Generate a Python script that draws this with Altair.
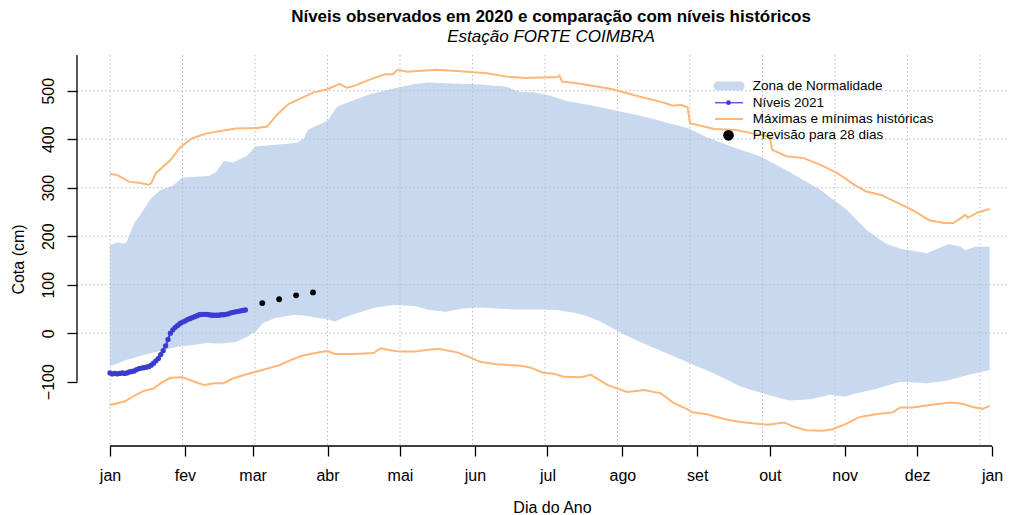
import altair as alt
import pandas as pd

# ---------------- text ----------------
TITLE = "Níveis observados em 2020 e comparação com níveis históricos"
SUBTITLE = "Estação FORTE COIMBRA"
X_TITLE = "Dia do Ano"
Y_TITLE = "Cota (cm)"
LEGEND_LABELS = ["Zona de Normalidade", "Níveis 2021",
                 "Máximas e mínimas históricas", "Previsão para 28 dias"]

# ---------------- axes ----------------
month_days = [1, 32, 60, 91, 121, 152, 182, 213, 244, 274, 305, 335, 366]
month_labels = ["jan", "fev", "mar", "abr", "mai", "jun", "jul", "ago",
                "set", "out", "nov", "dez", "jan"]
y_ticks = [-100, 0, 100, 200, 300, 400, 500]
grid_x = [1, 31, 61, 91, 121, 151, 181, 211, 241, 271, 301, 331, 361]
grid_y = [0, 100, 200, 300, 400, 500]

# ---------------- data ----------------
max_days = [1, 4, 9, 13, 17, 18, 20, 26, 30, 35, 41, 48, 53, 62, 66, 70, 75, 80, 85, 91,
            96, 99, 102, 110, 115, 118, 120, 124, 136, 146, 157, 165, 173, 186, 187, 188,
            195, 209, 220, 229, 234, 237, 240, 241, 251, 260, 267, 274, 275, 281, 288, 295,
            302, 309, 314, 320, 328, 333, 340, 346, 350, 355, 356, 360, 365]
max_vals = [328, 326, 312, 310, 306, 309, 330, 357, 383, 402, 412, 418, 422, 423, 426, 450,
            473, 484, 496, 503, 514, 506, 510, 526, 534, 534, 543, 539, 543, 540, 536, 529,
            526, 528, 531, 519, 515, 503, 488, 477, 469, 471, 466, 433, 421, 419, 412, 405,
            378, 365, 361, 347, 330, 306, 292, 285, 266, 254, 233, 227, 227, 244, 238, 249, 256]

min_days = [1, 7, 11, 15, 19, 22, 26, 31, 36, 40, 44, 48, 52, 60, 64, 69, 71, 76, 80, 87,
            91, 94, 102, 110, 113, 117, 121, 127, 131, 137, 145, 151, 154, 161, 171, 175,
            180, 185, 189, 196, 200, 207, 215, 222, 229, 234, 240, 242, 248, 256, 262, 273,
            280, 284, 289, 296, 300, 306, 311, 318, 325, 328, 333, 342, 349, 354, 358, 362, 365]
min_vals = [-148, -141, -129, -119, -114, -103, -92, -91, -100, -107, -103, -103, -93, -81,
            -76, -69, -66, -55, -47, -40, -37, -43, -43, -41, -31, -35, -38, -38, -35, -32,
            -40, -52, -59, -64, -67, -71, -81, -84, -90, -91, -86, -107, -121, -117, -124,
            -143, -157, -163, -167, -178, -183, -189, -184, -193, -200, -201, -198, -186,
            -173, -167, -163, -153, -153, -147, -143, -146, -152, -156, -150]

band_up_days = [1, 4, 7, 8, 11, 13, 18, 22, 27, 31, 42, 45, 48, 52, 58, 61, 78, 81, 83, 91,
                95, 102, 109, 118, 127, 133, 143, 154, 165, 171, 176, 182, 190, 201, 211,
                220, 230, 240, 248, 258, 270, 282, 295, 306, 314, 322, 328, 333, 339, 342,
                348, 353, 355, 359, 365]
band_up_vals = [182, 187, 185, 189, 227, 240, 278, 295, 304, 321, 324, 333, 355, 352, 367,
                385, 392, 400, 420, 438, 467, 481, 493, 504, 514, 517, 515, 513, 508, 497,
                497, 491, 479, 469, 458, 449, 436, 423, 404, 385, 365, 333, 295, 254, 213,
                185, 174, 170, 165, 171, 184, 178, 171, 178, 178]

band_lo_days = [1, 8, 15, 22, 29, 36, 41, 47, 53, 58, 62, 64, 69, 77, 82, 88, 91, 94, 98,
                105, 111, 118, 127, 133, 140, 147, 154, 168, 180, 186, 193, 198, 204, 209,
                215, 223, 231, 241, 251, 262, 271, 282, 291, 299, 305, 309, 317, 328, 339,
                347, 356, 365]
band_lo_vals = [-68, -55, -45, -36, -28, -24, -20, -21, -18, -7, 7, 20, 31, 38, 36, 31, 29,
                24, 33, 44, 53, 58, 56, 48, 44, 51, 53, 49, 49, 48, 42, 36, 24, 10, -6, -24,
                -41, -62, -83, -110, -124, -139, -136, -127, -131, -125, -116, -100, -103,
                -98, -86, -76]

level_vals = [-82, -84, -83, -84, -83, -82, -83, -82, -80, -79, -78, -75, -73, -72, -71,
              -70, -69, -66, -62, -57, -52, -44, -36, -26, -13, 0, 7, 12, 16, 20, 23, 25,
              28, 30, 32, 34, 36, 38, 39, 39, 39, 38, 37, 37, 37, 37, 38, 38, 39, 40, 42,
              43, 44, 45, 46, 47, 48]
level_days = list(range(1, len(level_vals) + 1))

fc_days = [64, 71, 78, 85]
fc_vals = [62, 70, 78, 84]

# ---------------- style ----------------
FONT = "Liberation Sans"
BAND = "#C8D8EE"
ORANGE = "#FFB677"
BLUE = "#3B3BD0"
GRID = "#BDBDBD"
W, H = 932, 391
X_DOM = [-12.66, 373.0]
Y_DOM = [-232.6, 573.6]

xs = alt.Scale(domain=X_DOM, nice=False, zero=False)
ys = alt.Scale(domain=Y_DOM, nice=False, zero=False)

label_expr = "{}[indexof({}, datum.value)]".format(
    "[" + ",".join("'%s'" % m for m in month_labels) + "]",
    "[" + ",".join(str(d) for d in month_days) + "]")

X_AXIS = alt.Axis(
    values=month_days, labelExpr=label_expr, title=X_TITLE, grid=False, domain=False,
    ticks=True, tickSize=10, tickWidth=1.3, tickColor="black",
    labelFont=FONT, labelFontSize=16, labelColor="black", labelPadding=11,
    labelOverlap=False, labelFlush=False, labelBound=False,
    titleFont=FONT, titleFontSize=16, titleFontWeight="normal", titleColor="black",
    titleX=475, titleY=61, titleBaseline="middle", titleAlign="center")
Y_AXIS = alt.Axis(
    values=y_ticks, grid=False, domain=False, ticks=True, tickSize=10, tickWidth=1.3,
    tickColor="black", labelFont=FONT, labelFontSize=16, labelColor="black",
    labelAngle=270, labelAlign="center", labelBaseline="alphabetic", labelPadding=13.5,
    labelOverlap=False, labelFlush=False, labelBound=False,
    title=Y_TITLE, titleFont=FONT, titleFontSize=16, titleFontWeight="normal",
    titleColor="black", titleAngle=270, titleX=-59, titleY=204,
    titleAlign="center", titleBaseline="middle")

# band drawn as upper area, then the part below the lower limit masked with white
band_top = alt.Chart(pd.DataFrame({"day": band_up_days, "v": band_up_vals})).mark_area(
    color=BAND, opacity=1).encode(
    x=alt.X("day:Q", scale=xs, axis=X_AXIS),
    y=alt.Y("v:Q", scale=ys, axis=Y_AXIS),
    y2=alt.datum(Y_DOM[0]))
band_mask = alt.Chart(pd.DataFrame({"day": band_lo_days, "v": band_lo_vals})).mark_area(
    color="white", opacity=1).encode(
    x=alt.X("day:Q", scale=xs),
    y=alt.Y("v:Q", scale=ys),
    y2=alt.datum(Y_DOM[0]))

vgrid = alt.Chart(pd.DataFrame({"g": grid_x})).mark_rule(
    color=GRID, strokeDash=[1.5, 2.5], strokeWidth=1).encode(
    x=alt.X("g:Q", scale=xs), y=alt.value(0), y2=alt.value(H))
hgrid = alt.Chart(pd.DataFrame({"g": grid_y})).mark_rule(
    color=GRID, strokeDash=[1.5, 2.5], strokeWidth=1).encode(
    y=alt.Y("g:Q", scale=ys), x=alt.value(0), x2=alt.value(W))

hist_df = pd.concat([
    pd.DataFrame({"day": max_days, "v": max_vals, "s": "max"}),
    pd.DataFrame({"day": min_days, "v": min_vals, "s": "min"}),
])
hist = alt.Chart(hist_df).mark_line(color=ORANGE, strokeWidth=2).encode(
    x=alt.X("day:Q", scale=xs), y=alt.Y("v:Q", scale=ys), detail="s:N")

x_line = alt.Chart(pd.DataFrame({"a": [month_days[0]], "b": [month_days[-1]]})).mark_rule(
    color="black", strokeWidth=1.3).encode(
    x=alt.X("a:Q", scale=xs), x2="b:Q", y=alt.value(H))
y_line = alt.Chart(pd.DataFrame({"a": [y_ticks[0]]})).mark_rule(
    color="black", strokeWidth=1.3).encode(
    y=alt.Y("a:Q", scale=ys), y2=alt.value(0), x=alt.value(0))

lev_df = pd.DataFrame({"day": level_days, "v": level_vals})
lev_line = alt.Chart(lev_df).mark_line(color=BLUE, strokeWidth=2).encode(
    x=alt.X("day:Q", scale=xs), y=alt.Y("v:Q", scale=ys))
lev_pts = alt.Chart(lev_df).mark_circle(color=BLUE, size=28, opacity=1).encode(
    x=alt.X("day:Q", scale=xs), y=alt.Y("v:Q", scale=ys))

fc_pts = alt.Chart(pd.DataFrame({"day": fc_days, "v": fc_vals})).mark_circle(
    color="black", size=34, opacity=1).encode(
    x=alt.X("day:Q", scale=xs), y=alt.Y("v:Q", scale=ys))

# ---------------- legend ----------------
LX0, LX1, LXC, LXT = 638, 666, 651.5, 675.7
LY = [31, 47.7, 64, 80.3]
one = pd.DataFrame({"k": [0]})
leg = [
    alt.Chart(one).mark_rule(color=BAND, strokeWidth=9, strokeCap="round").encode(
        x=alt.value(LX0 + 3), x2=alt.value(LX1 - 3), y=alt.value(LY[0])),
    alt.Chart(one).mark_rule(color="#5A5AD8", strokeWidth=1.5).encode(
        x=alt.value(LX0), x2=alt.value(LX1), y=alt.value(LY[1])),
    alt.Chart(one).mark_circle(color=BLUE, size=22, opacity=1).encode(
        x=alt.value(LXC), y=alt.value(LY[1])),
    alt.Chart(one).mark_rule(color=ORANGE, strokeWidth=2).encode(
        x=alt.value(LX0), x2=alt.value(LX1), y=alt.value(LY[2])),
    alt.Chart(one).mark_circle(color="black", size=115, opacity=1).encode(
        x=alt.value(LXC), y=alt.value(LY[3])),
]
for i, lab in enumerate(LEGEND_LABELS):
    leg.append(alt.Chart(pd.DataFrame({"t": [lab]})).mark_text(
        align="left", baseline="middle", font=FONT, fontSize=13.5, color="black").encode(
        x=alt.value(LXT), y=alt.value(LY[i]), text="t:N"))

chart = alt.layer(
    band_top, band_mask, vgrid, hgrid, hist, x_line, y_line, lev_line, lev_pts, fc_pts, *leg
).properties(
    width=W, height=H,
    title=alt.TitleParams(
        TITLE, subtitle=SUBTITLE, anchor="middle", dx=8, offset=8,
        font=FONT, fontSize=17, fontWeight="bold", color="black",
        subtitleFont=FONT, subtitleFontSize=17, subtitleFontStyle="italic",
        subtitleColor="black", subtitlePadding=3),
    autosize=alt.AutoSizeParams(type="none"),
    padding={"left": 69, "top": 47, "right": 0, "bottom": 74},
    background="white",
).configure_view(stroke=None)

chart.save("out.html", embed_options={"renderer": "svg", "actions": False})
